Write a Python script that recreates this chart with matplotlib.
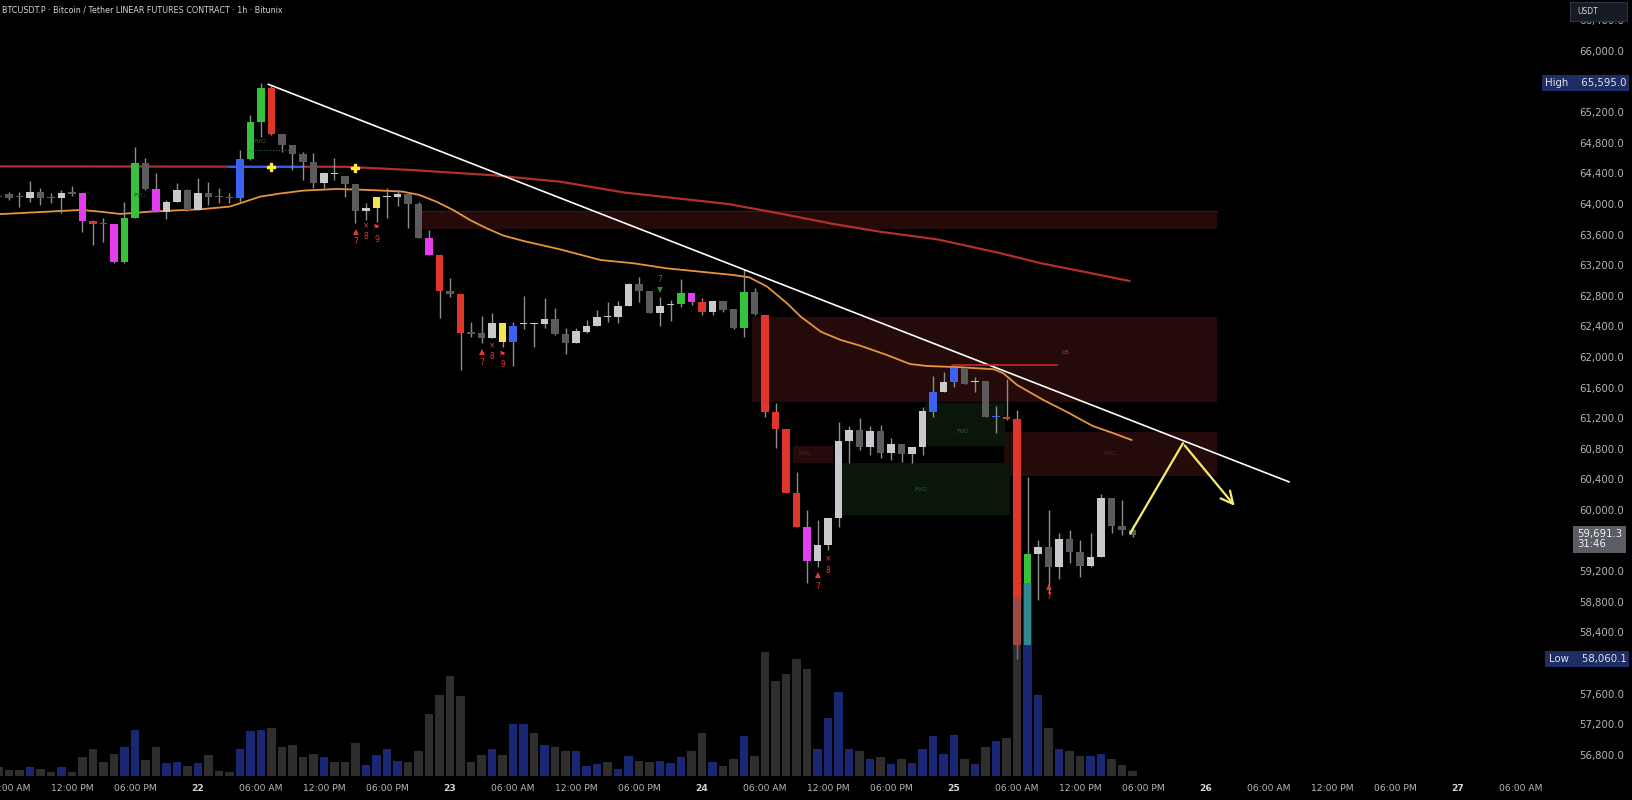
import matplotlib.pyplot as plt
from matplotlib.patches import Rectangle
from matplotlib.transforms import blended_transform_factory

# hourly candles, hour 0 = 22nd 00:00
hours = list(range(-19, 90))
opens = [64118, 64140, 64110, 64096, 64175, 64105, 64092, 64157, 64153, 63795,
         63760, 63752, 63260, 63835, 64554, 64205, 63913, 64040, 64196, 63935,
         64162, 64109, 64100, 64088, 64597, 65090, 65525, 64924, 64785, 64667,
         64558, 64292, 64414, 64384, 64270, 63922, 63966, 64105, 64100, 64144,
         64013, 63573, 63347, 62881, 62837, 62332, 62332, 62266, 62462, 62205,
         62440, 62445, 62440, 62506, 62310, 62192, 62345, 62419, 62550, 62541,
         62680, 62964, 62881, 62585, 62695, 62707, 62846, 62737, 62606, 62750,
         62637, 62397, 62868, 62562, 61290, 61068, 60240, 59796, 59347, 59556,
         59913, 60915, 61059, 60841, 61051, 60755, 60877, 60746, 60842, 61299,
         61561, 61683, 61874, 61680, 61700, 61234, 61234, 61199, 58250, 59439,
         59526, 59273, 59635, 59461, 59286, 59404, 60166, 59805, 59753]
highs = [64140, 64174, 64175, 64313, 64218, 64161, 64196, 64249, 64153, 63804,
         63826, 63752, 64044, 64763, 64610, 64415, 64066, 64283, 64205, 64357,
         64305, 64218, 64153, 64719, 65177, 65595, 65560, 64930, 64785, 64697,
         64675, 64436, 64610, 64384, 64280, 64022, 64100, 64218, 64196, 64144,
         64044, 63674, 63347, 63050, 62837, 62475, 62550, 62585, 62462, 62475,
         62811, 62454, 62780, 62650, 62388, 62388, 62497, 62628, 62737, 62746,
         62985, 63063, 62881, 62802, 62759, 63029, 62846, 62780, 62750, 62750,
         62637, 63159, 62911, 62562, 61408, 61068, 60515, 60014, 59883, 59913,
         61168, 61112, 61212, 61112, 61125, 60951, 60877, 60842, 61365, 61765,
         61813, 61909, 61874, 61757, 61700, 61373, 61722, 61321, 60450, 59622,
         60014, 59709, 59753, 59622, 59718, 60219, 60166, 60144, 59818]
lows = [64090, 64066, 63979, 64044, 63999, 64022, 63900, 64118, 63652, 63478,
        63522, 63240, 63240, 63826, 64196, 63913, 63817, 64035, 63926, 63935,
        64000, 64022, 64022, 64044, 64588, 64893, 64915, 64697, 64457, 64327,
        64218, 64218, 64327, 64109, 63761, 63804, 63783, 63826, 63988, 63695,
        63573, 63347, 62519, 62802, 61844, 62279, 62192, 62266, 62149, 61896,
        62375, 62149, 62388, 62301, 62053, 62192, 62323, 62419, 62475, 62454,
        62680, 62737, 62585, 62419, 62489, 62672, 62694, 62563, 62563, 62606,
        62375, 62270, 62562, 61234, 60820, 60240, 59796, 59055, 59273, 59490,
        59796, 60624, 60798, 60733, 60689, 60668, 60646, 60633, 60733, 61225,
        61552, 61626, 61661, 61561, 61225, 61016, 61190, 58060, 58250, 58838,
        58921, 59108, 59317, 59143, 59273, 59404, 59709, 59687, 59666]
closes = [64105, 64096, 64105, 64175, 64096, 64096, 64157, 64150, 63795, 63752,
          63752, 63260, 63835, 64554, 64205, 63913, 64040, 64196, 63935, 64162,
          64109, 64100, 64088, 64597, 65090, 65525, 64924, 64785, 64667, 64558,
          64292, 64414, 64400, 64270, 63922, 63966, 64100, 64110, 64144, 64013,
          63573, 63347, 62881, 62833, 62332, 62320, 62266, 62462, 62214, 62419,
          62445, 62440, 62506, 62314, 62192, 62358, 62423, 62541, 62541, 62680,
          62968, 62881, 62585, 62680, 62705, 62846, 62737, 62606, 62750, 62628,
          62397, 62868, 62571, 61290, 61068, 60240, 59796, 59347, 59556, 59913,
          60915, 61059, 60841, 61051, 60755, 60877, 60746, 60842, 61312, 61561,
          61683, 61874, 61661, 61700, 61234, 61240, 61199, 58250, 59434, 59526,
          59273, 59635, 59461, 59286, 59404, 60166, 59805, 59753, 59691]
# bar colour state from the indicator
states = ['dark', 'dark', 'dark', 'light', 'dark', 'dark', 'light', 'dark', 'magenta', 'red',
          'dark', 'magenta', 'green', 'green', 'dark', 'magenta', 'light', 'light', 'dark', 'light',
          'dark', 'dark', 'dark', 'blue', 'green', 'green', 'red', 'dark', 'dark', 'dark',
          'dark', 'light', 'light', 'dark', 'dark', 'light', 'yellow', 'light', 'light', 'dark',
          'dark', 'magenta', 'red', 'dark', 'red', 'dark', 'dark', 'light', 'yellow', 'blue',
          'light', 'light', 'light', 'dark', 'dark', 'light', 'light', 'light', 'light', 'light',
          'light', 'dark', 'dark', 'light', 'light', 'green', 'magenta', 'red', 'light', 'dark',
          'dark', 'green', 'dark', 'red', 'red', 'red', 'red', 'magenta', 'light', 'light',
          'light', 'light', 'dark', 'light', 'dark', 'light', 'dark', 'light', 'light', 'blue',
          'light', 'blue', 'dark', 'light', 'dark', 'blue', 'red', 'red', 'green', 'light',
          'dark', 'light', 'dark', 'dark', 'light', 'light', 'dark', 'dark', 'dark']
volumes = [90, 60, 60, 90, 70, 40, 90, 40, 190, 270,
           140, 220, 290, 460, 160, 290, 130, 140, 100, 130,
           210, 50, 40, 270, 450, 460, 480, 290, 310, 190,
           220, 190, 140, 140, 330, 110, 210, 270, 150, 140,
           250, 620, 810, 1000, 800, 140, 210, 270, 210, 520,
           520, 430, 310, 290, 250, 250, 100, 120, 140, 70,
           200, 150, 140, 150, 130, 190, 250, 430, 140, 100,
           170, 400, 200, 1240, 950, 1020, 1170, 1070, 270, 580,
           840, 270, 250, 170, 190, 120, 170, 130, 270, 400,
           220, 410, 170, 120, 290, 350, 380, 1790, 1930, 810,
           480, 270, 250, 200, 200, 220, 170, 110, 50]

slow_ma_h = [-19, 14, 20, 28, 34.5, 40.6, 50.5, 55, 60.4, 65, 70.4, 76.3, 80.3, 85, 88.7]
slow_ma_p = [64505, 64500, 64460, 64390, 64305, 64163, 64013, 63900, 63755, 63650,
             63551, 63374, 63238, 63110, 63007]
fast_ma_h = [-19, -11.2, -9.3, -7.4, -4.6, 0.2, 3, 4, 5.9, 7.8, 10, 13.2, 16.4, 19.5,
             21.1, 22.7, 24.3, 25.9, 27.5, 29.1, 31, 34.5, 38.3, 41.5, 44.6, 47.8,
             50.9, 52.5, 54.2, 56.1, 57.4, 59.3, 61.2, 63.1, 65.6, 67.8, 69.4, 72.6,
             75.8, 76.7, 78, 80.5, 82.7, 85.2, 87.2, 88.9]
fast_ma_p = [63880, 63935, 63913, 63883, 63913, 63944, 63979, 64022, 64109, 64150,
             64188, 64210, 64196, 64175, 64131, 64044, 63935, 63804, 63695, 63600,
             63530, 63420, 63282, 63238, 63173, 63129, 63086, 63055, 62933, 62715,
             62541, 62345, 62236, 62160, 62040, 61922, 61896, 61879, 61853, 61800,
             61648, 61452, 61299, 61112, 61016, 60929]

# zones: start hour, end hour, bottom, top, kind
zone_start = [20.8, 52.8, 76.8, 56.7, 69.2, 61.1]
zone_end = [97, 97, 97, 60.5, 76.9, 77.3]
zone_low = [63687, 61430, 60458, 60632, 60855, 59948]
zone_high = [63922, 62530, 61033, 60855, 61408, 60632]
zone_kind = ['bear', 'bear', 'bear', 'bear', 'bull', 'bull']

trend_h = [6.7, 103.9]
trend_p = [65578, 60381]
path_h = [88.8, 93.8, 98.9]
path_p = [59713, 60885, 60040]

tick_hours = list(range(-18, 127, 6))
tick_labels = ['06:00 AM', '12:00 PM', '06:00 PM', '22', '06:00 AM', '12:00 PM', '06:00 PM',
               '23', '06:00 AM', '12:00 PM', '06:00 PM', '24', '06:00 AM', '12:00 PM',
               '06:00 PM', '25', '06:00 AM', '12:00 PM', '06:00 PM', '26', '06:00 AM',
               '12:00 PM', '06:00 PM', '27', '06:00 AM']
price_ticks = list(range(56800, 66401, 400))
high_price = 65595.0
low_price = 58060.1

body_colors = {'light': '#c9cacd', 'dark': '#5b5b5e', 'green': '#36c23f', 'red': '#e0352b',
               'magenta': '#e23ef0', 'blue': '#3c62f2', 'yellow': '#f2e64c'}
zone_colors = {'bear': '#240b0a', 'bull': '#0b160b'}

fig = plt.figure(figsize=(16.32, 8.0), dpi=100)
fig.patch.set_facecolor('black')
ax = fig.add_axes([0, 24 / 800, 1565 / 1632, 776 / 800])
ax.set_facecolor('black')
ax.set_xlim(-18.857, 130.19)
ax.set_ylim(56536, 66680)
for s in ax.spines.values():
    s.set_visible(False)

for i in range(len(zone_start)):
    ax.add_patch(Rectangle((zone_start[i], zone_low[i]), zone_end[i] - zone_start[i],
                           zone_high[i] - zone_low[i], fc=zone_colors[zone_kind[i]],
                           ec='none', zorder=1))
ax.plot([20.8, 97], [63922, 63922], color='#4a1612', lw=0.8, zorder=1)

ax.plot(slow_ma_h, slow_ma_p, color='#b3302a', lw=1.6, zorder=2)
ax.plot(fast_ma_h, fast_ma_p, color='#e8943a', lw=1.3, zorder=2)
ax.plot([3, 10], [64500, 64500], color='#2f5bf0', lw=1.5, zorder=2)

# candles
ax.vlines(hours, lows, highs, color='#8c8c8c', lw=1, zorder=3)
bottoms = [min(o, c) for o, c in zip(opens, closes)]
heights = [max(abs(c - o), 14) for o, c in zip(opens, closes)]
ax.bar(hours, heights, bottom=bottoms, width=0.72,
       color=[body_colors[s] for s in states], zorder=4)

ax.plot(trend_h, trend_p, color='white', lw=1.2, zorder=5)
ax.plot(path_h[:2], path_p[:2], color='#f3ec6c', lw=1.6, zorder=6)
ax.annotate('', xy=(path_h[2], path_p[2]), xytext=(path_h[1], path_p[1]),
            arrowprops=dict(arrowstyle='->', color='#f3ec6c', lw=1.6, mutation_scale=22),
            zorder=6)

ax.plot([71.8, 81.8], [61909, 61909], color='#c62828', lw=1.2, zorder=5)
ax.text(82.2, 62075, 'LB', color='#c0392b', fontsize=4.5, ha='left', va='center')
ax.plot([4.6, 9], [64720, 64720], color='#2e6b2e', lw=0.8, ls=':', zorder=5)
fvg = [(5.9, 64828, '#2e6b2e'), (-5.5, 64118, '#1f4a1f'), (72.8, 61040, '#2f6a2f'),
       (68.8, 60284, '#2a5e2a'), (57.8, 60754, '#5a2222'), (86.8, 60746, '#5a2222')]
for fh, fp, fc in fvg:
    ax.text(fh, fp, 'FVG', color=fc, fontsize=4.5, ha='center', va='center', zorder=5)

ax.plot([7, 15], [64500, 64480], ls='none', marker='P', ms=6, color='#ffe93b', zorder=6)

red = '#e53935'
marks = [(15, 63651, '▲'), (15, 63521, '7'), (16, 63726, '×'), (16, 63586, '8'),
         (17, 63700, '⚑'), (17, 63552, '9'), (27, 62083, '▲'), (27, 61944, '7'),
         (28, 62162, '×'), (28, 62017, '8'), (29, 62040, '⚑'), (29, 61909, '9'),
         (59, 59164, '▲'), (59, 59011, '7'), (60, 59370, '×'), (60, 59221, '8'),
         (81, 59011, '▲'), (81, 58880, '7')]
for mh, mp, mt in marks:
    ax.text(mh, mp, mt, color=red, fontsize=5.5, ha='center', va='center', zorder=6)
ax.text(44, 63029, '7', color='#2e8b35', fontsize=5.5, ha='center', va='center')
ax.text(44, 62889, '▼', color='#2e8b35', fontsize=5.5, ha='center', va='center')

# volume overlay
ax2 = ax.twinx()
ax2.set_ylim(0, 7760)
ax2.patch.set_visible(False)
vol_colors = ['#3450e6' if c >= o else '#5c5c5c' for o, c in zip(opens, closes)]
ax2.bar(hours, volumes, width=0.8, color=vol_colors, alpha=0.5)
ax2.set_yticks([])
for s in ax2.spines.values():
    s.set_visible(False)

ax.set_yticks([])
ax.set_xticks(tick_hours)
ax.set_xticklabels(tick_labels)
ax.tick_params(axis='x', length=0, pad=6, labelsize=6.6, labelcolor='#b2b5be')
for lab in ax.get_xticklabels():
    if len(lab.get_text()) == 2:
        lab.set_fontweight('bold')
        lab.set_color('#d1d4dc')

# price scale on the right
blend = blended_transform_factory(fig.transFigure, ax.transData)
covered = [high_price, low_price, closes[-1]]
for p in price_ticks:
    if min(abs(p - c) for c in covered) < 120:
        continue
    ax.text(1624 / 1632, p, f'{p:,.1f}', transform=blend, ha='right', va='center',
            fontsize=7.3, color='#b2b5be', clip_on=False)

ax.text(0.9965, high_price, 'High    65,595.0', transform=blend, ha='right', va='center',
        fontsize=7.3, color='#e0e3eb', clip_on=False, zorder=10,
        bbox=dict(boxstyle='square,pad=0.3', fc='#1e2d63', ec='none'))
ax.text(0.9965, low_price, 'Low    58,060.1', transform=blend, ha='right', va='center',
        fontsize=7.3, color='#e0e3eb', clip_on=False, zorder=10,
        bbox=dict(boxstyle='square,pad=0.3', fc='#1e2d63', ec='none'))
ax.annotate('59,691.3\n31:46', xy=(1577 / 1632, closes[-1]), xycoords=blend,
            xytext=(0, 4), textcoords='offset points', ha='left', va='top',
            fontsize=7.3, color='#f0f0f0', linespacing=1.05, annotation_clip=False,
            bbox=dict(boxstyle='square,pad=0.35', fc='#5a5d64', ec='none'))

fig.patches.append(Rectangle((1570 / 1632, 1 - 21 / 800), 57 / 1632, 19 / 800,
                             transform=fig.transFigure, fc='#161a24', ec='#30343e',
                             lw=0.8, zorder=10))
fig.text(1577 / 1632, 1 - 11.5 / 800, 'USDT', ha='left', va='center', fontsize=5.5,
         color='#d1d4dc', zorder=11)
fig.text(2 / 1632, 1 - 10 / 800,
         'BTCUSDT.P · Bitcoin / Tether LINEAR FUTURES CONTRACT · 1h · Bitunix',
         ha='left', va='center', fontsize=5.8, color='#d1d4dc')

fig.savefig('out.png', dpi=100, facecolor='black')
